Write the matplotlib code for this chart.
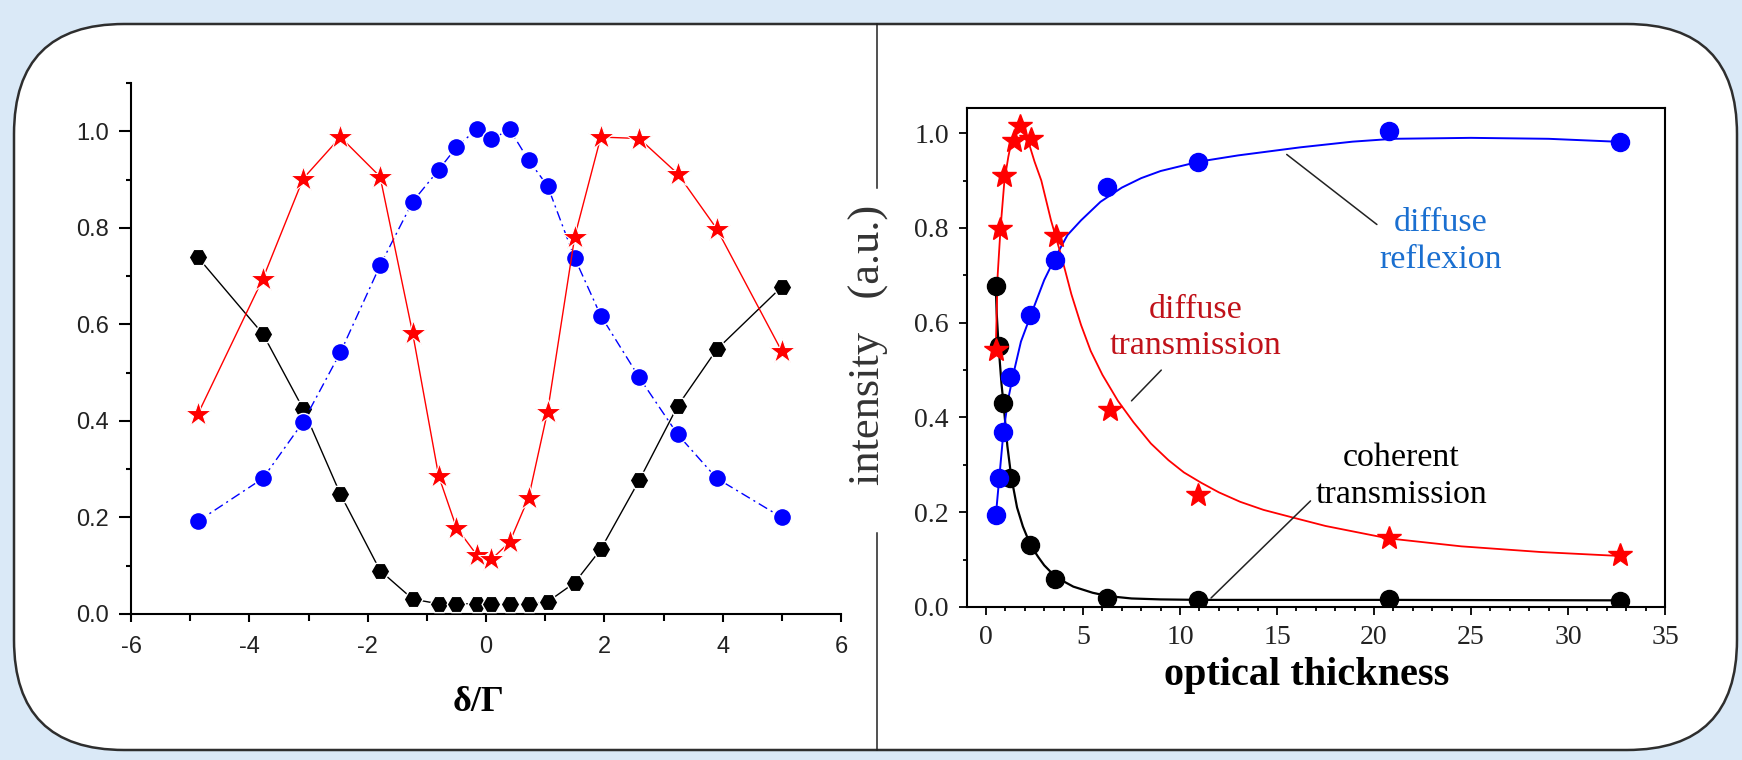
import matplotlib
matplotlib.use("Agg")
import matplotlib.pyplot as plt
from matplotlib.patches import FancyBboxPatch
from matplotlib.lines import Line2D
from matplotlib.ticker import MultipleLocator
from matplotlib.transforms import Affine2D

plt.rcParams['axes.unicode_minus'] = False

# left panel: scan over detuning delta/Gamma
detuning = [-4.87, -3.77, -3.09, -2.46, -1.79, -1.24, -0.80, -0.50, -0.16, 0.09,
            0.40, 0.72, 1.04, 1.50, 1.94, 2.59, 3.24, 3.90, 5.00]
coherent_scan = [0.739, 0.580, 0.425, 0.248, 0.090, 0.031, 0.021, 0.021, 0.021, 0.021,
                 0.021, 0.021, 0.025, 0.065, 0.134, 0.277, 0.431, 0.548, 0.678]
reflexion_scan = [0.192, 0.281, 0.398, 0.542, 0.722, 0.854, 0.920, 0.967, 1.004, 0.983,
                  1.004, 0.940, 0.887, 0.737, 0.618, 0.490, 0.372, 0.281, 0.200]
transmission_scan = [0.414, 0.695, 0.902, 0.988, 0.906, 0.582, 0.286, 0.179, 0.123, 0.113,
                     0.149, 0.241, 0.419, 0.782, 0.988, 0.985, 0.912, 0.798, 0.544]

# right panel: measured points vs optical thickness
thickness = [0.50, 0.65, 0.90, 1.25, 2.25, 3.55, 6.25, 10.95, 20.75, 32.70]
coherent_meas = [0.677, 0.550, 0.430, 0.273, 0.131, 0.060, 0.019, 0.015, 0.017, 0.013]
reflexion_meas = [0.195, 0.273, 0.370, 0.486, 0.617, 0.733, 0.886, 0.939, 1.004, 0.982]
thickness_tr = [0.50, 0.70, 0.95, 1.45, 1.75, 2.30, 3.60, 6.40, 10.95, 20.75, 32.70]
transmission_meas = [0.542, 0.797, 0.910, 0.983, 1.015, 0.987, 0.782, 0.415, 0.236, 0.146, 0.110]

# model curves
fit_x_coh = [0.50, 0.55, 0.65, 0.80, 0.90, 1.10, 1.30, 1.60, 1.90, 2.30, 2.70, 3.00, 3.60,
             4.50, 5.50, 6.30, 7.50, 9.00, 11.0, 21.0, 33.0]
fit_coh = [0.680, 0.620, 0.550, 0.470, 0.430, 0.340, 0.275, 0.210, 0.170, 0.130, 0.105, 0.088,
           0.063, 0.043, 0.030, 0.023, 0.018, 0.016, 0.015, 0.015, 0.014]
fit_x_ref = [0.50, 0.70, 0.90, 1.15, 1.40, 1.80, 2.30, 3.00, 3.60, 4.20, 4.90, 5.90, 7.00,
             8.00, 9.00, 11.0, 13.0, 16.2, 18.9, 21.0, 25.0, 29.0, 33.0]
fit_ref = [0.190, 0.280, 0.370, 0.440, 0.490, 0.560, 0.615, 0.690, 0.740, 0.785, 0.816, 0.855,
           0.885, 0.905, 0.920, 0.940, 0.953, 0.970, 0.982, 0.988, 0.990, 0.988, 0.981]
fit_x_tr = [0.50, 0.55, 0.60, 0.75, 0.95, 1.15, 1.30, 1.50, 1.70, 1.95, 2.20, 2.50, 2.85,
            3.35, 3.90, 4.40, 4.90, 5.40, 6.00, 6.80, 7.60, 8.50, 9.40, 10.2, 11.1, 12.0,
            13.1, 14.3, 15.7, 17.5, 20.7, 24.5, 28.6, 33.0]
fit_tr = [0.540, 0.620, 0.700, 0.800, 0.900, 0.950, 0.980, 1.000, 1.010, 1.000, 0.980, 0.940,
          0.900, 0.816, 0.738, 0.660, 0.595, 0.540, 0.490, 0.435, 0.390, 0.345, 0.310, 0.284,
          0.262, 0.242, 0.222, 0.205, 0.190, 0.171, 0.145, 0.128, 0.116, 0.107]

W, H = 1742, 760
fig = plt.figure(figsize=(W / 100, H / 100), dpi=100)
fig.patch.set_facecolor('#dae9f7')
# pixel coordinates, origin top-left
px = Affine2D().scale(1 / W, -1 / H).translate(0, 1) + fig.transFigure

frame = FancyBboxPatch((14, 24), 1723, 726, boxstyle="round,pad=0,rounding_size=110",
                       transform=px, facecolor='white', edgecolor='#2e2e2e',
                       linewidth=1.8, zorder=-5)
fig.add_artist(frame)
for y0, y1 in [(24, 188), (533, 750)]:
    fig.add_artist(Line2D([877, 877], [y0, y1], transform=px, color='#222222', lw=1.1, zorder=-4))

sans = 'Liberation Sans'
serif = 'Liberation Serif'

# ---- left panel
ax = fig.add_axes([131 / W, 1 - 614 / H, 710 / W, 531 / H])
ax.set_facecolor('none')
ax.plot(detuning, coherent_scan, color='black', lw=1.0, marker='H', ms=13.5,
        mfc='black', mec='white', mew=1.0, zorder=3)
ax.plot(detuning, reflexion_scan, color='#0000ff', lw=1.0, ls=(0, (7, 3, 1.5, 3)),
        marker='o', ms=13, mfc='#0000ff', mec='white', mew=1.0, zorder=4)
ax.plot(detuning, transmission_scan, color='#ff0000', lw=1.0, marker='*', ms=19,
        mfc='#ff0000', mec='white', mew=0.8, zorder=5)
ax.set_xlim(-6, 6)
ax.set_ylim(0, 1.1)
for s in ['top', 'right']:
    ax.spines[s].set_visible(False)
for s in ['left', 'bottom']:
    ax.spines[s].set_linewidth(1.5)
ax.xaxis.set_major_locator(MultipleLocator(2))
ax.xaxis.set_minor_locator(MultipleLocator(1))
ax.yaxis.set_minor_locator(MultipleLocator(0.1))
ax.set_yticks([0, 0.2, 0.4, 0.6, 0.8, 1.0])
ax.set_yticklabels(['0.0', '0.2', '0.4', '0.6', '0.8', '1.0'])
ax.tick_params(axis='y', which='major', direction='out', length=9, width=1.5, pad=7)
ax.tick_params(axis='y', which='minor', direction='out', length=3.5, width=1.5)
ax.tick_params(axis='x', which='major', direction='out', length=6, width=1.5, pad=10)
ax.tick_params(axis='x', which='minor', direction='out', length=5, width=1.5)
for lab in ax.get_xticklabels() + ax.get_yticklabels():
    lab.set_fontfamily(sans)
    lab.set_fontsize(17)
    lab.set_color('#222222')
ax.set_xlabel('δ/Γ', fontfamily=serif, fontweight='bold', fontsize=26)
ax.xaxis.set_label_coords(0.489, -0.166)
ax.xaxis.label.set_va('center')

# ---- right panel
ax2 = fig.add_axes([967 / W, 1 - 607 / H, 698 / W, 499 / H])
ax2.set_facecolor('none')
ax2.plot(fit_x_coh, fit_coh, color='black', lw=1.6, zorder=2)
ax2.plot(fit_x_ref, fit_ref, color='#0000ff', lw=1.4, zorder=2)
ax2.plot(fit_x_tr, fit_tr, color='#ff0000', lw=1.3, zorder=2)
ax2.plot(thickness, coherent_meas, ls='none', marker='o', ms=13, color='black', zorder=3)
ax2.plot(thickness, reflexion_meas, ls='none', marker='o', ms=13, color='#0000ff', zorder=4)
ax2.plot(thickness_tr, transmission_meas, ls='none', marker='*', ms=18, color='#ff0000', zorder=5)
ax2.set_xlim(-0.98, 35)
ax2.set_ylim(0, 1.053)
for s in ax2.spines.values():
    s.set_linewidth(1.5)
ax2.xaxis.set_major_locator(MultipleLocator(5))
ax2.xaxis.set_minor_locator(MultipleLocator(1))
ax2.set_yticks([0, 0.2, 0.4, 0.6, 0.8, 1.0])
ax2.set_yticklabels(['0.0', '0.2', '0.4', '0.6', '0.8', '1.0'])
ax2.yaxis.set_minor_locator(MultipleLocator(0.1))
ax2.tick_params(which='major', direction='out', length=6, width=1.3, pad=7)
ax2.tick_params(which='minor', direction='out', length=3, width=1.3)
for lab in ax2.get_xticklabels() + ax2.get_yticklabels():
    lab.set_fontfamily(serif)
    lab.set_fontsize(20)
    lab.set_color('#222222')
ax2.set_xlabel('optical thickness', fontfamily=serif, fontweight='bold', fontsize=29)
ax2.xaxis.set_label_coords(0.486, -0.138)
ax2.xaxis.label.set_va('center')
ax2.set_ylabel('intensity   (a.u.)', fontfamily=serif, fontsize=32, color='#333333')
ax2.yaxis.set_label_coords(-0.140, 0.525)
ax2.yaxis.label.set_va('center')

# curve labels with leader lines
ax2.annotate('diffuse\nreflexion', xy=(15.5, 0.955), xytext=(23.45, 0.772),
             ha='center', va='center', fontfamily=serif, fontsize=24.5, color='#1a6fd0',
             linespacing=1.25,
             arrowprops=dict(arrowstyle='-', color='#222222', lw=1.1,
                             shrinkA=0, shrinkB=0, relpos=(0.04, 0.66)))
ax2.annotate('diffuse\ntransmission', xy=(7.5, 0.435), xytext=(10.8, 0.589),
             ha='center', va='center', fontfamily=serif, fontsize=24.5, color='#c0121a',
             linespacing=1.25,
             arrowprops=dict(arrowstyle='-', color='#222222', lw=1.1,
                             shrinkA=6, shrinkB=0, relpos=(0.35, 0.0)))
ax2.annotate('coherent\ntransmission', xy=(11.6, 0.019), xytext=(21.4, 0.276),
             ha='center', va='center', fontfamily=serif, fontsize=24.5, color='black',
             linespacing=1.25,
             arrowprops=dict(arrowstyle='-', color='#222222', lw=1.1,
                             shrinkA=2, shrinkB=0, relpos=(0.0, 0.2)))

fig.savefig('out.png', dpi=100, facecolor=fig.get_facecolor())
